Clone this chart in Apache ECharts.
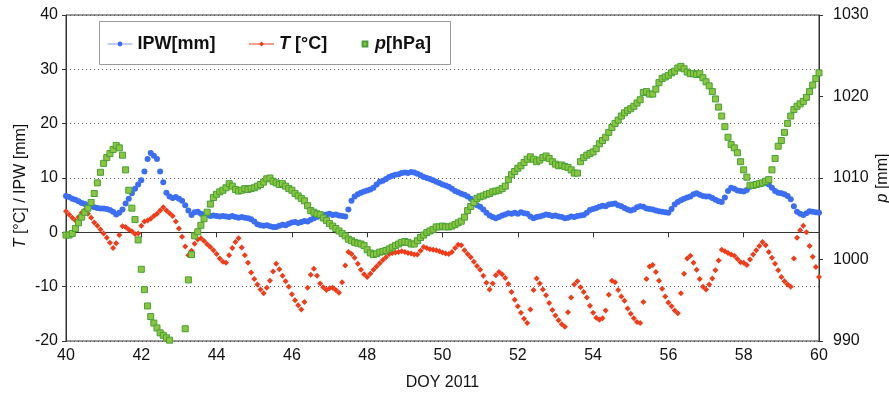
<!DOCTYPE html>
<html>
<head>
<meta charset="utf-8">
<script src="https://cdn.jsdelivr.net/npm/echarts@6/dist/echarts.min.js"></script>
<style>
  html, body { margin: 0; padding: 0; background: #fff; overflow: hidden; }
  #chart { width: 889px; height: 396px; }
</style>
</head>
<body>
<div id="chart"></div>
<script>
// Sampling: every 2 hours from DOY 40.0 to DOY 60.0 (12 samples per day)
const startDay = 40;
const samplesPerDay = 12;

// Integrated precipitable water [mm], one row per day
const ipw = [
  6.7,6.5,6.2,6.0,5.7,5.4,5.2,5.0,4.8,4.6,4.5,4.4,
  4.4,4.3,4.1,3.8,3.3,3.6,4.2,5.3,6.2,7.2,8.0,8.8,
  9.6,11.2,13.5,14.6,14.1,13.5,11.2,9.2,7.3,6.6,6.3,6.5,
  6.2,5.8,5.0,4.0,3.2,3.7,3.8,3.4,3.3,3.2,3.0,3.1,
  3.0,2.9,3.0,2.9,2.8,3.0,2.8,2.7,2.8,2.7,2.6,2.4,
  2.0,1.5,1.3,1.2,1.3,1.1,1.0,1.0,1.2,1.4,1.3,1.6,
  1.8,1.9,1.7,1.9,2.1,2.0,2.3,2.6,2.8,3.0,3.2,3.3,
  3.4,3.2,3.3,3.1,3.0,2.9,4.2,5.8,6.6,7.0,7.3,7.5,
  7.7,7.9,8.2,8.8,9.3,9.5,9.8,10.2,10.4,10.6,10.7,10.9,
  11.0,10.9,11.1,11.0,10.8,10.5,10.2,10.0,9.8,9.6,9.3,9.1,
  8.8,8.6,8.4,8.0,7.6,7.4,7.1,6.9,6.6,6.2,5.6,5.0,
  4.7,4.2,3.6,3.1,2.8,2.6,2.8,3.1,3.3,3.5,3.4,3.6,
  3.4,3.7,3.5,3.4,2.9,2.6,2.8,2.9,3.1,3.3,3.2,3.0,
  3.1,2.9,2.8,2.6,2.7,2.9,2.8,3.0,3.1,3.2,3.6,4.1,
  4.3,4.5,4.7,4.9,4.8,5.1,5.2,5.3,5.0,4.8,4.5,4.2,
  4.0,4.2,4.6,4.8,4.7,4.4,4.3,4.2,4.0,3.9,3.8,3.7,
  3.6,4.3,5.1,5.6,5.9,6.2,6.4,6.6,7.0,7.2,6.9,6.7,
  6.6,6.6,6.3,6.0,5.7,5.6,6.4,7.6,8.2,8.0,7.7,7.6,
  7.5,7.8,8.4,8.6,8.8,8.9,9.0,9.1,8.8,8.2,7.6,7.3,
  7.2,7.0,6.7,6.1,4.8,3.8,3.4,3.2,3.5,3.9,3.8,3.7,
  3.6
];

// Air temperature [°C]
const temp = [
  3.9,3.3,2.7,2.2,2.8,3.6,4.1,3.4,2.7,1.8,1.2,0.5,
  -0.2,-1.0,-1.9,-2.9,-2.0,-0.5,1.1,1.0,0.5,0.2,-0.3,-0.2,
  1.2,2.0,2.2,2.5,3.0,3.4,4.0,4.6,4.0,3.5,3.0,2.0,
  0.7,-0.8,-2.6,-4.2,-3.4,-2.1,-1.3,-1.1,-1.6,-2.2,-2.7,-3.3,
  -4.0,-4.8,-5.4,-5.6,-4.2,-2.9,-1.8,-1.1,-2.8,-4.2,-5.6,-7.4,
  -8.6,-9.6,-10.5,-11.2,-10.2,-8.9,-7.2,-5.8,-6.8,-8.0,-9.0,-10.0,
  -11.4,-12.5,-13.4,-14.2,-12.8,-10.2,-7.8,-6.7,-8.0,-9.4,-10.1,-10.6,
  -10.3,-10.2,-10.6,-11.1,-9.2,-6.1,-3.6,-4.0,-4.7,-5.8,-6.9,-7.7,
  -8.2,-7.6,-6.9,-6.3,-5.7,-5.1,-4.6,-4.0,-3.8,-3.7,-3.6,-3.5,
  -3.6,-3.8,-3.9,-4.1,-4.1,-3.4,-2.7,-2.9,-3.1,-3.2,-3.3,-3.5,
  -3.7,-3.9,-4.0,-3.6,-2.9,-2.3,-2.4,-3.3,-4.0,-4.6,-5.4,-6.2,
  -6.9,-8.0,-9.3,-10.5,-9.4,-7.9,-7.3,-7.7,-8.4,-9.5,-11.0,-12.4,
  -13.6,-14.8,-15.9,-16.7,-14.2,-10.6,-8.5,-9.4,-10.5,-11.6,-13.0,-14.3,
  -15.3,-16.2,-16.9,-17.4,-14.7,-12.0,-9.6,-9.0,-10.1,-11.0,-12.0,-13.5,
  -14.8,-15.7,-16.1,-15.8,-14.4,-11.5,-8.9,-9.2,-10.6,-11.8,-12.6,-14.0,
  -15.0,-15.8,-16.5,-16.7,-12.8,-8.6,-6.3,-6.0,-7.3,-8.9,-10.4,-11.8,
  -12.9,-13.6,-14.4,-14.9,-11.2,-7.6,-4.8,-4.3,-5.6,-6.9,-8.6,-10.0,
  -10.5,-9.6,-8.5,-7.0,-5.2,-3.2,-3.5,-3.8,-4.1,-4.3,-4.9,-5.5,
  -5.6,-6.0,-5.0,-4.1,-3.3,-2.5,-1.8,-2.4,-3.6,-4.7,-5.8,-7.0,
  -8.2,-9.0,-9.6,-10.0,-4.8,-1.0,0.4,1.2,0.0,-2.5,-4.5,-6.4,
  -8.2
];

// Surface pressure [hPa]
const pres = [
  1003.0,1003.0,1003.2,1003.8,1004.5,1005.2,1005.8,1006.3,1007.0,1008.1,1009.4,1010.7,
  1011.8,1012.5,1013.0,1013.5,1014.0,1013.7,1012.8,1011.0,1008.5,1006.3,1004.9,1002.4,
  998.8,996.3,994.3,993.0,992.2,991.6,991.0,990.7,990.4,990.1,989.5,988.6,
  988.4,989.3,991.5,997.5,1000.6,1002.9,1003.4,1004.2,1005.0,1005.8,1006.8,1007.6,
  1008.0,1008.3,1008.5,1008.8,1009.3,1009.0,1008.6,1008.4,1008.5,1008.7,1008.6,1008.7,
  1008.8,1009.0,1009.2,1009.5,1009.9,1010.0,1009.6,1009.4,1009.2,1009.3,1009.0,1008.7,
  1008.5,1008.1,1007.8,1007.5,1007.2,1006.6,1006.0,1005.8,1005.6,1005.5,1005.1,1004.8,
  1004.4,1004.1,1003.8,1003.5,1003.2,1002.9,1002.5,1002.3,1002.1,1002.0,1001.9,1001.7,
  1001.2,1000.8,1000.6,1000.7,1000.9,1001.0,1001.1,1001.3,1001.5,1001.7,1001.9,1002.1,
  1002.2,1002.1,1001.9,1001.9,1002.3,1002.7,1003.0,1003.3,1003.5,1003.7,1004.0,1004.0,
  1004.1,1004.0,1004.0,1004.1,1004.3,1004.5,1004.7,1005.2,1006.0,1006.5,1007.0,1007.5,
  1007.7,1007.8,1008.0,1008.1,1008.3,1008.4,1008.5,1008.7,1009.0,1009.8,1010.4,1010.8,
  1011.2,1011.5,1011.9,1012.3,1012.6,1012.3,1012.0,1012.2,1012.5,1012.7,1012.4,1012.0,
  1011.7,1011.5,1011.6,1011.4,1011.3,1011.0,1010.6,1010.6,1012.0,1012.5,1012.8,1013.0,
  1013.2,1013.6,1014.2,1014.6,1015.0,1015.6,1016.2,1016.7,1017.1,1017.6,1018.0,1018.3,
  1018.5,1018.8,1019.2,1019.6,1020.5,1020.6,1020.3,1020.3,1020.9,1021.7,1022.2,1022.4,
  1022.6,1022.9,1023.1,1023.5,1023.7,1023.4,1023.0,1022.8,1022.8,1022.7,1022.8,1022.3,
  1021.8,1021.3,1020.6,1019.7,1018.7,1017.6,1016.3,1015.0,1014.1,1013.7,1013.1,1012.0,
  1011.0,1010.1,1009.1,1009.1,1009.2,1009.3,1009.4,1009.6,1009.8,1011.0,1012.4,1013.9,
  1014.6,1015.6,1016.7,1017.6,1018.4,1018.8,1019.1,1019.4,1019.9,1020.6,1021.4,1022.2,
  1022.9
];

// Axis ranges and tick steps
const xRange = [40, 60, 2];
const leftRange = [-20, 40, 10];
const rightRange = [990, 1030, 10];

const seriesNames = ['IPW[mm]', 'T [°C]', 'p[hPa]'];

function pairs(values) {
  return values.map((v, i) => [startDay + i / samplesPerDay, v]);
}

const font = 'Liberation Sans, Arial, sans-serif';
const colBlue = '#3b6ef2';
const colRed = '#f03c18';
const colGreen = '#8cc63f';

const legendText = {
  fontSize: 18, fontWeight: 'bold', color: '#111', fontFamily: font,
  rich: { i: { fontSize: 18, fontWeight: 'bold', fontStyle: 'italic', color: '#111', fontFamily: font } }
};
function legendLabel(name) {
  if (name === 'T [°C]') return '{i|T} [°C]';
  if (name === 'p[hPa]') return '{i|p}[hPa]';
  return name;
}

const chart = echarts.init(document.getElementById('chart'), null, { renderer: 'canvas', width: 889, height: 396 });
chart.setOption({
  animation: false,
  backgroundColor: '#fff',
  textStyle: { fontFamily: font },
  grid: {
    left: 66, right: 70, top: 15, bottom: 55,
    containLabel: false, outerBoundsMode: 'none',
    show: true, borderColor: '#333', borderWidth: 1, backgroundColor: 'transparent'
  },
  graphic: [{
    type: 'rect', z: 3,
    shape: { x: 99.5, y: 21.5, width: 351, height: 43 },
    style: { fill: '#fff', stroke: '#999', lineWidth: 1 }
  }],
  legend: [{
    data: [
      { name: seriesNames[0], lineStyle: { color: '#7f9cf5', width: 1, opacity: 1 } },
      { name: seriesNames[1], lineStyle: { color: colRed, width: 1, opacity: 1 } }
    ],
    left: 102, top: 30, itemWidth: 25, itemHeight: 6, itemGap: 33,
    selectedMode: false, textStyle: legendText, formatter: legendLabel, z: 5
  }, {
    data: [{ name: seriesNames[2] }],
    left: 354, top: 30, itemWidth: 10, itemHeight: 6,
    selectedMode: false, textStyle: legendText, formatter: legendLabel, z: 5
  }],
  xAxis: {
    type: 'value', min: xRange[0], max: xRange[1], interval: xRange[2],
    axisLine: { show: true, lineStyle: { color: '#333', width: 1 } },
    axisTick: { show: true, length: 5, lineStyle: { color: '#333' } },
    axisLabel: { fontSize: 16, color: '#111', margin: 7, formatter: v => String(v) },
    splitLine: { show: false },
    name: 'DOY 2011', nameLocation: 'middle', nameGap: 34, nameMoveOverlap: false,
    nameTextStyle: { fontSize: 16, color: '#111' }
  },
  yAxis: [{
    type: 'value', position: 'left', min: leftRange[0], max: leftRange[1], interval: leftRange[2],
    axisLine: { show: true, lineStyle: { color: '#333', width: 1 } },
    axisTick: { show: true, length: 4, lineStyle: { color: '#333' } },
    axisLabel: { fontSize: 16, color: '#111', margin: 8, formatter: v => String(v) },
    splitLine: { show: true, lineStyle: { color: '#555', type: [1, 3], width: 1 } },
    name: '{i|T} [°C] / IPW [mm]', nameLocation: 'middle', nameRotate: 90, nameGap: 37,
    nameMoveOverlap: false,
    nameTextStyle: { fontSize: 16, color: '#111', padding: [0, 16, 0, 0], rich: { i: { fontSize: 16, fontStyle: 'italic', color: '#111' } } }
  }, {
    type: 'value', position: 'right', min: rightRange[0], max: rightRange[1], interval: rightRange[2],
    axisLine: { show: true, lineStyle: { color: '#333', width: 1 } },
    axisTick: { show: true, length: 4, lineStyle: { color: '#333' } },
    axisLabel: { fontSize: 16, color: '#111', margin: 14, formatter: v => String(v) },
    splitLine: { show: false },
    name: '{i|p} [mm]', nameLocation: 'middle', nameRotate: 90, nameGap: 56,
    nameMoveOverlap: false,
    nameTextStyle: { fontSize: 16, color: '#111', rich: { i: { fontSize: 16, fontStyle: 'italic', color: '#111' } } }
  }],
  series: [{
    name: seriesNames[0], type: 'line', yAxisIndex: 0, data: pairs(ipw),
    symbol: 'circle', symbolSize: 6, showSymbol: true, clip: true,
    itemStyle: { color: colBlue, borderWidth: 0 },
    lineStyle: { color: colBlue, opacity: 0 }, emphasis: { disabled: true }
  }, {
    name: seriesNames[1], type: 'line', yAxisIndex: 0, data: pairs(temp),
    symbol: 'diamond', symbolSize: 6, showSymbol: true, clip: true,
    itemStyle: { color: colRed, borderWidth: 0 },
    lineStyle: { color: colRed, opacity: 0 }, emphasis: { disabled: true }
  }, {
    name: seriesNames[2], type: 'line', yAxisIndex: 1, data: pairs(pres),
    symbol: 'rect', symbolSize: 6, showSymbol: true, clip: true,
    itemStyle: { color: colGreen, borderColor: '#46a035', borderWidth: 1 },
    lineStyle: { color: colGreen, opacity: 0 }, emphasis: { disabled: true }
  }]
});
</script>
</body>
</html>
